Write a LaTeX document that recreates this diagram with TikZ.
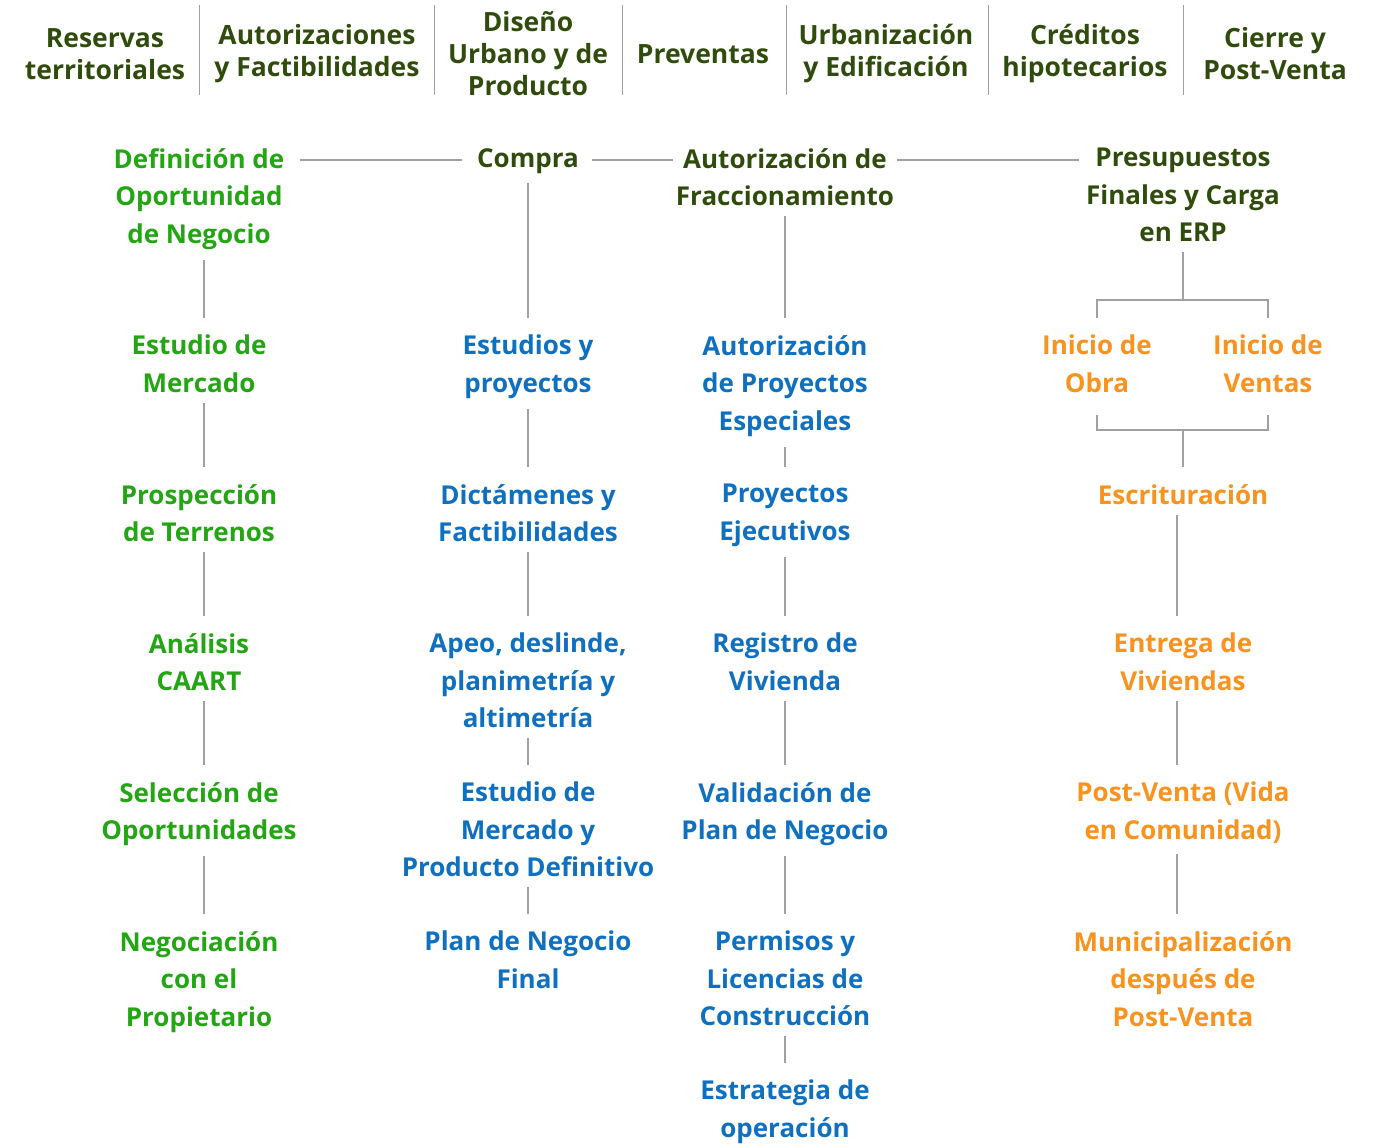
\documentclass[tikz,border=0pt]{standalone}
\usepackage{fontspec}
\setmainfont{Open Sans}
\usetikzlibrary{positioning}

\definecolor{verde}{RGB}{35,165,20}
\definecolor{oscuro}{RGB}{48,76,12}
\definecolor{azul}{RGB}{16,112,192}
\definecolor{naranja}{RGB}{247,147,30}
\definecolor{linea}{RGB}{160,160,160}

\tikzset{
  phase/.style={align=center, inner sep=0pt, text=oscuro, font=\fontsize{26.5}{32}\selectfont\bfseries},
  stage/.style={align=center, inner sep=0pt, anchor=north, font=\fontsize{26}{37.5}\selectfont\bfseries},
  link/.style={draw=linea, line width=1.3pt, shorten <=10pt, shorten >=17pt},
  branch/.style={draw=linea, line width=1.3pt}
}

\begin{document}
\begin{tikzpicture}[x=1pt, y=-1pt]
  \useasboundingbox (0,0) rectangle (1386,1146);

  % fases
  \node[phase] (p1) at (105,54) {Reservas\\territoriales};
  \node[phase] (p2) at (317,54) {Autorizaciones\\y Factibilidades};
  \node[phase] (p3) at (528,54) {Diseño\\Urbano y de\\Producto};
  \node[phase] (p4) at (703,54) {Preventas};
  \node[phase] (p5) at (886,54) {Urbanización\\y Edificación};
  \node[phase] (p6) at (1085,54) {Créditos\\hipotecarios};
  \node[phase] (p7) at (1275,54) {Cierre y\\Post-Venta};
  \foreach \x in {199,434,622,786,988,1183}
    \draw[branch, line width=1pt] (\x,5) -- (\x,95);

  % columna 1
  \node[stage, text=verde] (a0) at (199,148) {Definición de\\Oportunidad\\de Negocio};
  \node[stage, text=verde, below=187pt of a0.north] (a1) {Estudio de\\Mercado};
  \node[stage, text=verde, below=149pt of a1.north] (a2) {Prospección\\de Terrenos};
  \node[stage, text=verde, below=149pt of a2.north] (a3) {Análisis\\CAART};
  \node[stage, text=verde, below=149pt of a3.north] (a4) {Selección de\\Oportunidades};
  \node[stage, text=verde, below=149pt of a4.north] (a5) {Negociación\\con el\\Propietario};

  % columna 2
  \node[stage, text=oscuro] (b0) at (528,148) {Compra};
  \node[stage, text=azul, below=187pt of b0.north] (b1) {Estudios y\\proyectos};
  \node[stage, text=azul, below=149pt of b1.north] (b2) {Dictámenes y\\Factibilidades};
  \node[stage, text=azul, below=149pt of b2.north] (b3) {Apeo, deslinde,\\planimetría y\\altimetría};
  \node[stage, text=azul, below=149pt of b3.north] (b4) {Estudio de\\Mercado y\\Producto Definitivo};
  \node[stage, text=azul, below=149pt of b4.north] (b5) {Plan de Negocio\\Final};

  % columna 3
  \node[stage, text=oscuro] (c0) at (785,148) {Autorización de\\Fraccionamiento};
  \node[stage, text=azul, below=187pt of c0.north] (c1) {Autorización\\de Proyectos\\Especiales};
  \node[stage, text=azul, below=149pt of c1.north] (c2) {Proyectos\\Ejecutivos};
  \node[stage, text=azul, below=149pt of c2.north] (c3) {Registro de\\Vivienda};
  \node[stage, text=azul, below=149pt of c3.north] (c4) {Validación de\\Plan de Negocio};
  \node[stage, text=azul, below=149pt of c4.north] (c5) {Permisos y\\Licencias de\\Construcción};
  \node[stage, text=azul, below=149pt of c5.north] (c6) {Estrategia de\\operación};

  % columna 4
  \node[stage, text=oscuro] (d0) at (1183,148) {Presupuestos\\Finales y Carga\\en ERP};
  \node[stage, text=naranja, below=187pt of d0.north, xshift=-86pt] (e1) {Inicio de\\Obra};
  \node[stage, text=naranja, below=187pt of d0.north, xshift=85pt] (e2) {Inicio de\\Ventas};
  \node[stage, text=naranja, below=336pt of d0.north] (d2) {Escrituración};
  \node[stage, text=naranja, below=149pt of d2.north] (d3) {Entrega de\\Viviendas};
  \node[stage, text=naranja, below=149pt of d3.north] (d4) {Post-Venta (Vida\\en Comunidad)};
  \node[stage, text=naranja, below=149pt of d4.north] (d5) {Municipalización\\después de\\Post-Venta};
  \coordinate[below=152pt of d0.north] (aux1);
  \coordinate[below=282pt of d0.north] (aux2);

  % fila superior
  \draw[link, shorten <=15pt, shorten >=15pt] ([yshift=-12pt]a0.north east) -- ([yshift=-12pt]b0.north west);
  \draw[link, shorten <=13pt, shorten >=3pt] ([yshift=-12pt]b0.north east) -- ([yshift=-12pt]c0.north west);
  \draw[link, shorten <=3pt, shorten >=7pt] ([yshift=-12pt]c0.north east) -- ([yshift=-12pt]d0.north west);

  % columna 1
  \draw[link] ([xshift=5pt]a0.south) -- ([xshift=5pt]a1.north);
  \draw[link] ([xshift=5pt]a1.south) -- ([xshift=5pt]a2.north);
  \draw[link] ([xshift=5pt]a2.south) -- ([xshift=5pt]a3.north);
  \draw[link] ([xshift=5pt]a3.south) -- ([xshift=5pt]a4.north);
  \draw[link] ([xshift=5pt]a4.south) -- ([xshift=5pt]a5.north);

  % columna 2
  \draw[link] (b0.south) -- (b1.north);
  \draw[link] (b1.south) -- (b2.north);
  \draw[link] (b2.south) -- (b3.north);
  \draw[link] (b3.south) -- (b4.north);
  \draw[link] (b4.south) -- (b5.north);

  % columna 3
  \draw[link] (c0.south) -- (c1.north);
  \draw[link] (c1.south) -- (c2.north);
  \draw[link] (c2.south) -- (c3.north);
  \draw[link] (c3.south) -- (c4.north);
  \draw[link] (c4.south) -- (c5.north);
  \draw[link] (c5.south) -- (c6.north);

  % columna 4
  \draw[link, shorten >=0pt] (d0.south) -- (aux1);
  \draw[branch] ([yshift=17pt]e1.north) |- (aux1) -| ([yshift=17pt]e2.north);
  \draw[branch] ([yshift=-22pt]e1.south) |- (aux2) -| ([yshift=-22pt]e2.south);
  \draw[link, shorten <=0pt] (aux2) -- (d2.north);
  \draw[link] ([xshift=-6pt]d2.south) -- ([xshift=-6pt]d3.north);
  \draw[link] ([xshift=-6pt]d3.south) -- ([xshift=-6pt]d4.north);
  \draw[link] ([xshift=-6pt]d4.south) -- ([xshift=-6pt]d5.north);
\end{tikzpicture}
\end{document}
